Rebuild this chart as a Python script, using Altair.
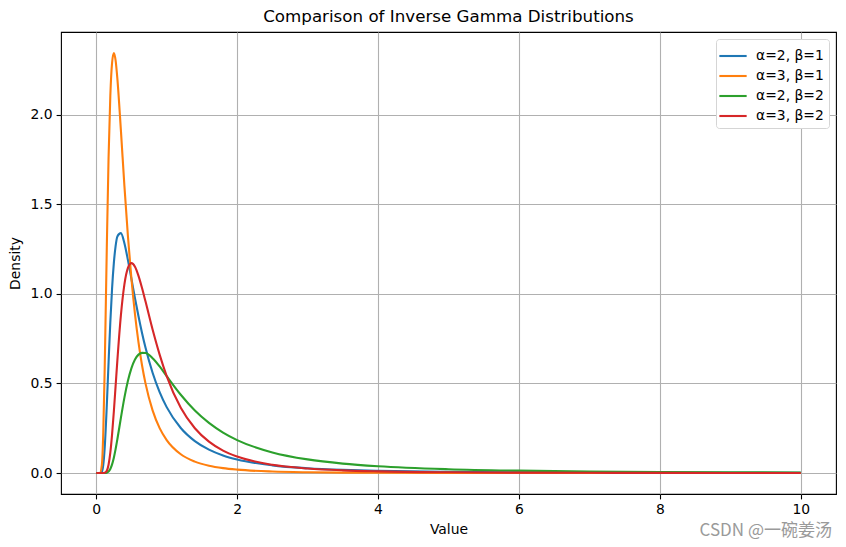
import altair as alt
import pandas as pd

x_vals = [0, 0.05, 0.08, 0.1, 0.12, 0.15, 0.175, 0.2, 0.225, 0.25, 0.275, 0.3, 0.35, 0.4,
          0.45, 0.5, 0.55, 0.6, 0.65, 0.7, 0.8, 0.9, 1.0, 1.2, 1.4, 1.6, 1.8, 2.0, 2.5, 3,
          3.5, 4, 5, 6, 7, 8, 9, 10]

a2_b1 = [0, 0.0000, 0.0073, 0.0454, 0.139, 0.377, 0.616, 0.842, 1.031, 1.172, 1.267, 1.321,
         1.339, 1.283, 1.189, 1.083, 0.976, 0.875, 0.782, 0.699, 0.560, 0.452, 0.368, 0.2515,
         0.1784, 0.1307, 0.0984, 0.0758, 0.0429, 0.0265, 0.0175, 0.0122, 0.0066, 0.0039,
         0.0025, 0.0017, 0.0012, 0.0009]
a3_b1 = [0, 0.0002, 0.0455, 0.227, 0.579, 1.257, 1.759, 2.106, 2.290, 2.345, 2.304, 2.202,
         1.914, 1.603, 1.322, 1.083, 0.887, 0.729, 0.602, 0.499, 0.350, 0.251, 0.184, 0.1048,
         0.0637, 0.0408, 0.0273, 0.0190, 0.0086, 0.0044, 0.0025, 0.0015, 0.0007, 0.0003,
         0.0002, 0.0001, 0.0001, 0.0000]
a2_b2 = [0, 0, 0, 0.0000, 0.0001, 0.0019, 0.0081, 0.0227, 0.0484, 0.0859, 0.1335, 0.1886,
         0.308, 0.421, 0.515, 0.586, 0.634, 0.661, 0.671, 0.670, 0.641, 0.595, 0.541, 0.437,
         0.349, 0.280, 0.226, 0.184, 0.115, 0.0761, 0.0527, 0.0379, 0.0215, 0.0133, 0.0088,
         0.0061, 0.0044, 0.0033]
a3_b2 = [0, 0, 0, 0.0001, 0.0011, 0.0128, 0.0465, 0.1135, 0.2154, 0.3436, 0.4855, 0.6287,
         0.880, 1.053, 1.145, 1.172, 1.152, 1.101, 1.033, 0.957, 0.801, 0.661, 0.541, 0.364,
         0.250, 0.175, 0.125, 0.092, 0.046, 0.0254, 0.0150, 0.0095, 0.0043, 0.0022, 0.0013,
         0.0008, 0.0005, 0.0003]

series_names = ["α=2, β=1", "α=3, β=1", "α=2, β=2", "α=3, β=2"]
series_colors = ["#1f77b4", "#ff7f0e", "#2ca02c", "#d62728"]
x_ticks = [0, 2, 4, 6, 8, 10]
y_ticks = [0.0, 0.5, 1.0, 1.5, 2.0]

rows = []
for name, ys in zip(series_names, [a2_b1, a3_b1, a2_b2, a3_b2]):
    for i, (xv, yv) in enumerate(zip(x_vals, ys)):
        rows.append({"x": xv, "y": yv, "series": name, "order": i})
df = pd.DataFrame(rows)

FONT = "DejaVu Sans"
W, H = 775, 462

lines = alt.Chart(df).mark_line(strokeWidth=2.1, interpolate="monotone").encode(
    x=alt.X("x:Q", title="Value",
            scale=alt.Scale(domain=[-0.5, 10.5], nice=False, zero=False),
            axis=alt.Axis(values=x_ticks, format="d", grid=True)),
    y=alt.Y("y:Q", title="Density",
            scale=alt.Scale(domain=[-0.117, 2.462], nice=False, zero=False),
            axis=alt.Axis(values=y_ticks, format=".1f", grid=True)),
    color=alt.Color("series:N", sort=series_names,
                    scale=alt.Scale(domain=series_names, range=series_colors),
                    legend=alt.Legend(title=None, orient="top-right", offset=7,
                                      symbolType="M-1.3,0H1.3", symbolSize=441,
                                      symbolStrokeWidth=2.1, labelFontSize=13.9,
                                      labelFont=FONT, labelColor="#000000",
                                      rowPadding=1, padding=5,
                                      strokeColor="#d5d5d5", fillColor="white",
                                      cornerRadius=3, labelOffset=11)),
    order="order:Q",
)

watermark = alt.Chart(pd.DataFrame({"t": ["CSDN @一碗姜汤"]})).mark_text(
    align="right", baseline="middle", fontSize=17, color="#9a9a9a",
    font="Noto Sans CJK SC"
).encode(x=alt.value(771), y=alt.value(499), text="t:N")

chart = alt.layer(lines, watermark).properties(
    width=W, height=H,
    title=alt.TitleParams("Comparison of Inverse Gamma Distributions", fontSize=16.7,
                          font=FONT, fontWeight="normal", anchor="middle", offset=6,
                          color="#000000"),
    autosize=alt.AutoSizeParams(type="none"),
    padding={"left": 61, "top": 32, "right": 10, "bottom": 53},
).configure_view(stroke="#000000", strokeWidth=1.1).configure_axis(
    labelFont=FONT, titleFont=FONT, labelFontSize=13.9, titleFontSize=13.9,
    labelColor="#000000", titleColor="#000000", titleFontWeight="normal",
    gridColor="#b0b0b0", gridWidth=1.1, domain=False,
    tickColor="#000000", tickSize=4.9, tickWidth=1.1, labelPadding=4,
).configure_axisX(titlePadding=6).configure_axisY(titlePadding=8)

chart.save("out.html", embed_options={"renderer": "svg", "actions": False})
